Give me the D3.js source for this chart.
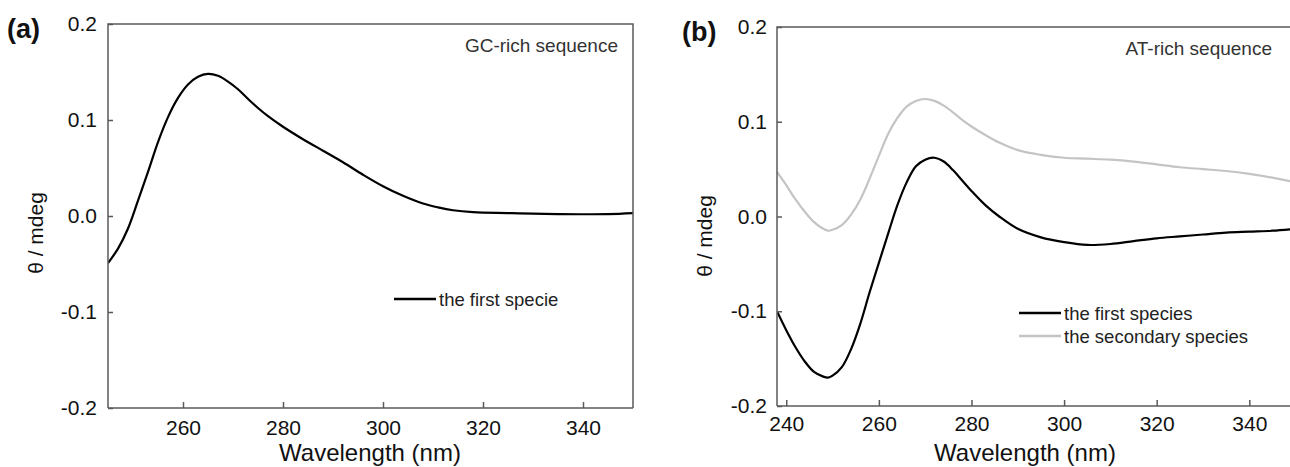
<!DOCTYPE html>
<html>
<head>
<meta charset="utf-8">
<script src="https://cdn.jsdelivr.net/npm/d3@7"></script>
<style>
  html, body { margin: 0; padding: 0; background: #fff; }
  svg text { font-family: "Liberation Sans", Arial, sans-serif; }
</style>
</head>
<body>
<svg id="fig" width="1290" height="467"></svg>
<script>
// ---- Panel (a): GC-rich sequence ----
const wavelengthA = [245, 247, 249, 251, 253, 255, 257, 259, 261, 263, 265, 267, 269, 271, 273, 275, 277,
  280, 284, 288, 292, 296, 300, 304, 308, 311, 314, 318, 325, 335, 345, 350];
const gcFirst = [-0.049, -0.034, -0.013, 0.016, 0.046, 0.077, 0.103, 0.123, 0.137, 0.145, 0.148, 0.146,
  0.140, 0.132, 0.122, 0.1125, 0.104, 0.093, 0.080, 0.068, 0.056, 0.043, 0.031, 0.021, 0.013, 0.009, 0.006,
  0.004, 0.003, 0.002, 0.002, 0.003];
const xTicksA = [260, 280, 300, 320, 340];

// ---- Panel (b): AT-rich sequence ----
const wavelengthB = [238, 240, 242, 244, 246, 248, 249, 250, 252, 254, 256, 258, 260, 262, 264, 266,
  268, 270, 272, 274, 276, 278, 280, 283, 286, 290, 295, 300, 305, 310, 315, 320, 325, 330, 335, 340, 345, 350];
const atFirst = [-0.100, -0.120, -0.138, -0.153, -0.164, -0.169, -0.170, -0.168, -0.159, -0.140, -0.113,
  -0.080, -0.049, -0.018, 0.012, 0.036, 0.053, 0.060, 0.062, 0.058, 0.049, 0.038, 0.027, 0.012, 0.000,
  -0.013, -0.022, -0.027, -0.030, -0.029, -0.026, -0.023, -0.021, -0.019, -0.017, -0.016, -0.015, -0.013];
const atSecondary = [0.047, 0.033, 0.018, 0.005, -0.006, -0.013, -0.015, -0.014, -0.009, 0.002, 0.018,
  0.040, 0.064, 0.087, 0.104, 0.116, 0.122, 0.124, 0.122, 0.117, 0.110, 0.102, 0.095, 0.086, 0.078,
  0.070, 0.065, 0.062, 0.061, 0.060, 0.058, 0.055, 0.052, 0.050, 0.048, 0.045, 0.041, 0.036];
const xTicksB = [240, 260, 280, 300, 320, 340];

const yTicks = [0.2, 0.1, 0.0, -0.1, -0.2];
const yTickLabels = ["0.2", "0.1", "0.0", "-0.1", "-0.2"];

const svg = d3.select("#fig");
const boxColor = "#5a5a5a";

function drawPanel(cfg) {
  const x = d3.scaleLinear().domain(cfg.xDomain).range(cfg.xRange);
  const y = d3.scaleLinear().domain([-0.2, 0.2]).range(cfg.yRange);
  const g = svg.append("g");
  const [x0, x1] = cfg.xRange;
  const [yb, yt] = cfg.yRange;

  // clip for curves
  const clipId = "clip-" + cfg.key;
  svg.append("clipPath").attr("id", clipId)
    .append("rect").attr("x", x0).attr("y", yt).attr("width", x1 - x0).attr("height", yb - yt);

  // spectra
  const line = d3.line().curve(d3.curveCatmullRom.alpha(0.5));
  cfg.series.forEach(s => {
    g.append("path")
      .datum(cfg.wl.map((w, i) => [x(w), y(s.values[i])]))
      .attr("clip-path", `url(#${clipId})`)
      .attr("fill", "none")
      .attr("stroke", s.color)
      .attr("stroke-width", s.width)
      .attr("stroke-linejoin", "round")
      .attr("d", line);
  });

  // bottom axis with inward ticks
  const xAxis = d3.axisBottom(x).tickValues(cfg.xTicks).tickSize(-6).tickPadding(13).tickFormat(d3.format("d"));
  const gx = g.append("g").attr("transform", `translate(0,${yb})`).call(xAxis);
  gx.select(".domain").remove();
  gx.selectAll(".tick line").attr("stroke", boxColor).attr("stroke-width", 1.5);
  gx.selectAll(".tick text").attr("font-size", 21).attr("fill", "#111")
    .attr("dy", null).attr("y", cfg.xLabelBaseline - yb).attr("dominant-baseline", "auto");

  // left axis with inward ticks
  const yAxis = d3.axisLeft(y).tickValues(yTicks).tickSize(-5).tickPadding(cfg.yPad)
    .tickFormat((d, i) => yTickLabels[i]);
  const gy = g.append("g").attr("transform", `translate(${x0},0)`).call(yAxis);
  gy.select(".domain").remove();
  gy.selectAll(".tick line").attr("stroke", boxColor).attr("stroke-width", 1.5);
  gy.selectAll(".tick text").attr("font-size", 21).attr("fill", "#111");

  // frame
  const frame = [[x0, yb], [x0, yt], [x1, yt]];
  if (cfg.rightBorder) frame.push([x1, yb]);
  g.append("path").attr("d", d3.line()(frame)).attr("fill", "none")
    .attr("stroke", boxColor).attr("stroke-width", 1.5);
  g.append("line").attr("x1", x0).attr("x2", x1).attr("y1", yb).attr("y2", yb)
    .attr("stroke", boxColor).attr("stroke-width", 1.5);

  // axis titles
  g.append("text").attr("x", cfg.xTitleX).attr("y", 461).attr("text-anchor", "middle")
    .attr("font-size", 24).attr("fill", "#111").text("Wavelength (nm)");
  g.append("text").attr("transform", `translate(${cfg.yTitleX},${cfg.yTitleY}) rotate(-90)`)
    .attr("text-anchor", "middle").attr("dominant-baseline", "central")
    .attr("font-size", 21).attr("fill", "#111").text("θ / mdeg");

  // panel letter
  g.append("text").attr("x", cfg.letterX).attr("y", cfg.letterY).attr("font-size", 27)
    .attr("font-weight", "bold").attr("fill", "#111").text(cfg.letter);

  // sequence note
  g.append("text").attr("x", cfg.noteX).attr("y", cfg.noteY).attr("text-anchor", "end")
    .attr("font-size", 19).attr("fill", "#333").text(cfg.note);

  // legend
  cfg.legend.forEach(l => {
    g.append("line").attr("x1", l.x).attr("x2", l.x + 42).attr("y1", l.y).attr("y2", l.y)
      .attr("stroke", l.color).attr("stroke-width", 2.4);
    g.append("text").attr("x", l.x + 45).attr("y", l.y).attr("dominant-baseline", "central")
      .attr("font-size", 18.5).attr("fill", "#222").text(l.label);
  });
}

drawPanel({
  key: "a", letter: "(a)", letterX: 7, letterY: 38,
  wl: wavelengthA, xDomain: [245, 350], xRange: [108, 633], yRange: [408, 24],
  xTicks: xTicksA, xLabelBaseline: 435, yPad: 11, rightBorder: true,
  xTitleX: 370, yTitleX: 35, yTitleY: 233,
  note: "GC-rich sequence", noteX: 618, noteY: 52,
  series: [{ values: gcFirst, color: "#000", width: 2.2 }],
  legend: [{ x: 394, y: 299, color: "#000", label: "the first specie" }]
});

drawPanel({
  key: "b", letter: "(b)", letterX: 682, letterY: 41,
  wl: wavelengthB, xDomain: [238, 350], xRange: [777, 1295.6], yRange: [406, 27],
  xTicks: xTicksB, xLabelBaseline: 431, yPad: 10, rightBorder: false,
  xTitleX: 1025, yTitleX: 704, yTitleY: 236,
  note: "AT-rich sequence", noteX: 1272, noteY: 55,
  series: [
    { values: atSecondary, color: "#c4c4c4", width: 2.2 },
    { values: atFirst, color: "#000", width: 2.2 }
  ],
  legend: [
    { x: 1019, y: 313, color: "#000", label: "the first species" },
    { x: 1019, y: 336, color: "#c4c4c4", label: "the secondary species" }
  ]
});
</script>
</body>
</html>
